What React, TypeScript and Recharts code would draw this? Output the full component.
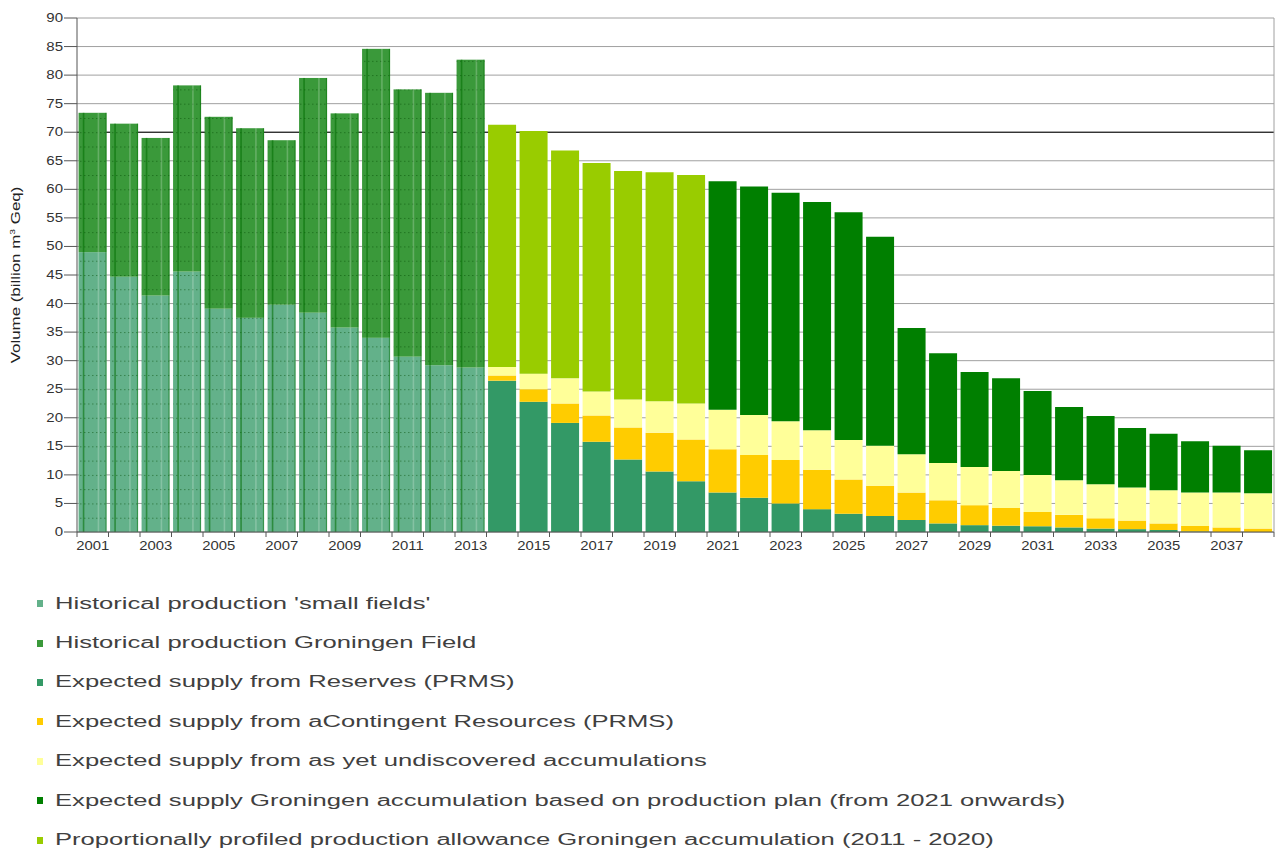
import { BarChart, Bar, XAxis, YAxis, CartesianGrid } from "recharts";

// ---- data (billion m3 Geq) ----
const years = [
  "2001", "2002", "2003", "2004", "2005", "2006", "2007", "2008", "2009", "2010",
  "2011", "2012", "2013", "2014", "2015", "2016", "2017", "2018", "2019", "2020",
  "2021", "2022", "2023", "2024", "2025", "2026", "2027", "2028", "2029", "2030",
  "2031", "2032", "2033", "2034", "2035", "2036", "2037", "2038",
];

const smallFields = [
  49.0, 44.7, 41.4, 45.6, 39.1, 37.5, 39.8, 38.4, 35.8, 34.0, 30.7, 29.2, 28.8,
  null, null, null, null, null, null, null, null, null, null, null, null, null,
  null, null, null, null, null, null, null, null, null, null, null, null,
];

const groningenHist = [
  24.4, 26.8, 27.6, 32.6, 33.6, 33.2, 28.8, 41.1, 37.5, 50.6, 46.8, 47.7, 53.9,
  null, null, null, null, null, null, null, null, null, null, null, null, null,
  null, null, null, null, null, null, null, null, null, null, null, null,
];

const reserves = [
  null, null, null, null, null, null, null, null, null, null, null, null, null,
  26.5, 22.8, 19.1, 15.8, 12.7, 10.6, 8.9, 6.9, 6.0, 5.0, 4.0, 3.2, 2.8,
  2.1, 1.5, 1.2, 1.1, 1.0, 0.8, 0.6, 0.5, 0.35, 0.1, 0, 0,
];

const contingent = [
  null, null, null, null, null, null, null, null, null, null, null, null, null,
  0.9, 2.2, 3.4, 4.6, 5.6, 6.8, 7.3, 7.6, 7.5, 7.6, 6.9, 6.0, 5.3,
  4.8, 4.05, 3.5, 3.1, 2.5, 2.2, 1.8, 1.5, 1.15, 0.95, 0.8, 0.6,
];

const undiscovered = [
  null, null, null, null, null, null, null, null, null, null, null, null, null,
  1.5, 2.7, 4.4, 4.2, 4.9, 5.5, 6.3, 6.9, 7.0, 6.8, 6.9, 6.9, 7.0,
  6.7, 6.55, 6.7, 6.5, 6.5, 6.05, 5.95, 5.8, 5.8, 5.85, 6.1, 6.2,
];

const groningenPlan = [
  null, null, null, null, null, null, null, null, null, null, null, null, null,
  null, null, null, null, null, null, null, 40.0, 40.0, 40.0, 40.0, 39.9, 36.6,
  22.1, 19.2, 16.6, 16.2, 14.7, 12.85, 11.95, 10.4, 9.9, 9.0, 8.2, 7.5,
];

const groningenAllowance = [
  null, null, null, null, null, null, null, null, null, null, null, null, null,
  42.4, 42.5, 39.9, 40.0, 40.0, 40.1, 40.0, null, null, null, null, null, null,
  null, null, null, null, null, null, null, null, null, null, null, null,
];

const yTicks = [0, 5, 10, 15, 20, 25, 30, 35, 40, 45, 50, 55, 60, 65, 70, 75, 80, 85, 90];

const series = [
  { key: "smallFields", name: "Historical production 'small fields'", color: "#63b18a", values: smallFields, striped: true },
  { key: "groningenHist", name: "Historical production Groningen Field", color: "#3a993a", values: groningenHist, striped: true },
  { key: "reserves", name: "Expected supply from Reserves (PRMS)", color: "#339966", values: reserves, striped: false },
  { key: "contingent", name: "Expected supply from aContingent Resources (PRMS)", color: "#ffcc00", values: contingent, striped: false },
  { key: "undiscovered", name: "Expected supply from as yet undiscovered accumulations", color: "#ffff99", values: undiscovered, striped: false },
  { key: "groningenPlan", name: "Expected supply Groningen accumulation based on production plan (from 2021 onwards)", color: "#007f00", values: groningenPlan, striped: false },
  { key: "groningenAllowance", name: "Proportionally profiled production allowance Groningen accumulation (2011 - 2020)", color: "#99cc00", values: groningenAllowance, striped: false },
];

const data = years.map((year, i) => {
  const row: Record<string, string | number | null> = { year };
  series.forEach((s) => (row[s.key] = s.values[i]));
  return row;
});

// ---- layout ----
const CHART_W = 1281;
const CHART_H = 560;
const MARGIN = { top: 18, right: 6, left: 0, bottom: 0 };
const Y_AXIS_W = 77;
const X_AXIS_H = 28;
const PLOT_H = CHART_H - MARGIN.top - MARGIN.bottom - X_AXIS_H;
const FONT = '"Liberation Sans", Arial, sans-serif';

function StripedBar(props: any) {
  const { x, y, width, height, fill } = props;
  if (!height || height <= 0) return null;
  return (
    <g>
      <rect x={x} y={y} width={width} height={height} fill={fill} />
      <rect x={x} y={y} width={width} height={height} fill="url(#histDots)" />
      <rect x={x + width * 0.15} y={y} width={1.6} height={height} fill="rgba(0,110,0,0.55)" />
      <rect x={x + width * 0.68} y={y} width={1.6} height={height} fill="rgba(255,255,255,0.22)" />
      <rect x={x + width - 1.2} y={y} width={1.2} height={height} fill="rgba(0,110,0,0.45)" />
    </g>
  );
}

function YTick({ x, y, payload }: any) {
  return (
    <text
      transform={`translate(${x},${y}) scale(1.25,1)`}
      textAnchor="end"
      dominantBaseline="central"
      fontSize={12}
      fontFamily={FONT}
      fill="#333"
    >
      {payload.value}
    </text>
  );
}

function XTick({ x, y, payload, index }: any) {
  const half = payload?.offset ?? 15.75;
  return (
    <g>
      <line x1={x - half} x2={x - half} y1={y} y2={y + 5} stroke="#555" />
      {index === years.length - 1 && (
        <line x1={x + half} x2={x + half} y1={y} y2={y + 5} stroke="#555" />
      )}
      {index % 2 === 0 && (
        <text
          transform={`translate(${x},${y + 14}) scale(1.24,1)`}
          textAnchor="middle"
          dominantBaseline="central"
          fontSize={12}
          fontFamily={FONT}
          fill="#333"
        >
          {payload.value}
        </text>
      )}
    </g>
  );
}

function YLabel() {
  const cy = MARGIN.top + PLOT_H / 2;
  return (
    <text
      transform={`translate(20,${cy}) rotate(-90) scale(1.3,1)`}
      textAnchor="middle"
      fontSize={13}
      fontFamily={FONT}
      fill="#222"
    >
      Volume (billion m<tspan dy={-5} fontSize={8}>3</tspan>
      <tspan dy={5}> Geq)</tspan>
    </text>
  );
}

export default function App() {
  return (
    <div style={{ position: "absolute", left: 0, top: 0, width: 1281, height: 850, background: "#fff" }}>
      <BarChart
        width={CHART_W}
        height={CHART_H}
        data={data}
        margin={MARGIN}
        barCategoryGap="5%"
      >
        <defs>
          <pattern
            id="histDots"
            patternUnits="userSpaceOnUse"
            x={0}
            y={MARGIN.top}
            width={4}
            height={PLOT_H / 36}
          >
            <rect x={0} y={0} width={1.5} height={1} fill="rgba(0,70,0,0.45)" />
          </pattern>
        </defs>
        <CartesianGrid vertical={false} stroke="#a0a0a0" />
        <CartesianGrid vertical={false} horizontalValues={[70]} stroke="#000" />
        <XAxis
          dataKey="year"
          height={X_AXIS_H}
          interval={0}
          tickLine={false}
          tickSize={0}
          tickMargin={0}
          tick={<XTick />}
          axisLine={{ stroke: "#555" }}
        />
        <YAxis
          width={Y_AXIS_W}
          domain={[0, 90]}
          ticks={yTicks}
          interval={0}
          tickSize={13}
          tickMargin={1}
          tick={<YTick />}
          tickLine={{ stroke: "#555" }}
          axisLine={{ stroke: "#555" }}
          label={<YLabel />}
        />
        <YAxis
          yAxisId="right"
          orientation="right"
          width={1}
          domain={[0, 90]}
          tick={false}
          tickLine={false}
          axisLine={{ stroke: "#a0a0a0" }}
        />
        {series.map((s) => (
          <Bar
            key={s.key}
            dataKey={s.key}
            name={s.name}
            stackId="supply"
            fill={s.color}
            isAnimationActive={false}
            shape={s.striped ? <StripedBar /> : undefined}
          />
        ))}
      </BarChart>

      {/* Legend */}
      <div style={{ position: "absolute", left: 0, top: 584 }}>
        {series.map((s) => (
          <div key={s.key} style={{ height: 39.4, display: "flex", alignItems: "center" }}>
            <div style={{ width: 6, height: 7, background: s.color, marginLeft: 37, marginRight: 12 }} />
            <span
              style={{
                display: "inline-block",
                fontFamily: FONT,
                fontSize: 16,
                color: "#404040",
                whiteSpace: "nowrap",
                transform: "scaleX(1.6)",
                transformOrigin: "left center",
              }}
            >
              {s.name}
            </span>
          </div>
        ))}
      </div>
    </div>
  );
}
